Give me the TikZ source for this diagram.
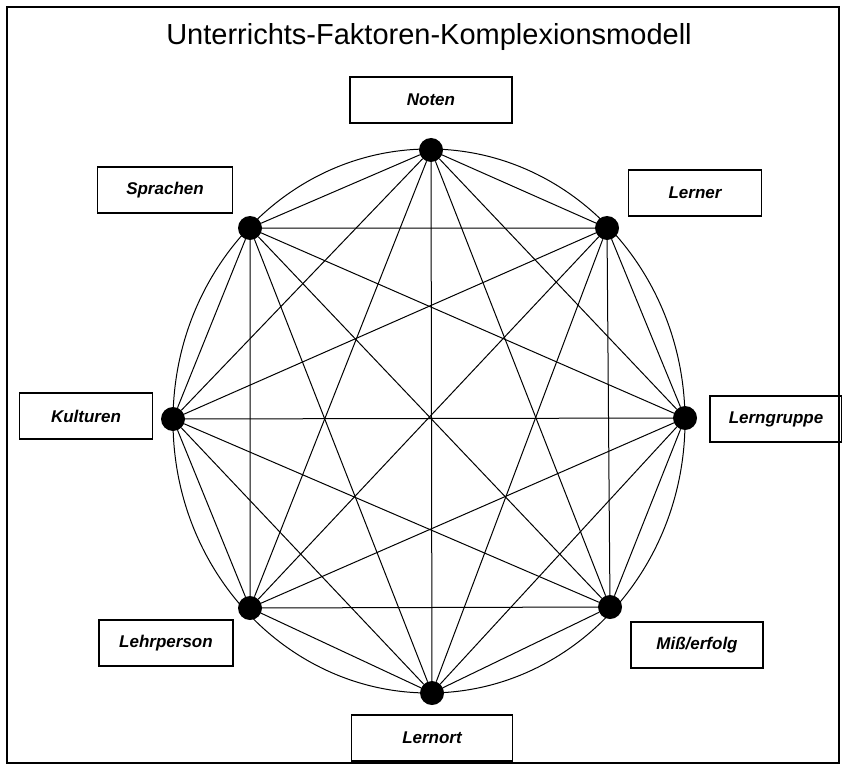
\documentclass[tikz,border=0pt]{standalone}
\usepackage{fontspec}
\setmainfont{Liberation Sans}
\tikzset{
  factor/.style={circle, fill=black, minimum size=24pt, inner sep=0pt},
  labelbox/.style={draw, line width=1.1pt, minimum height=46pt, inner sep=0pt,
    font=\fontsize{17}{20}\selectfont\bfseries\itshape},
  edge/.style={line width=1pt}
}
\begin{document}
\begin{tikzpicture}[x=1pt,y=-1pt]
    \useasboundingbox (0,0) rectangle (842,767);
    \draw[line width=1.4pt] (7,7) rectangle (839,763);
    \node[anchor=base,font=\fontsize{29}{34}\selectfont] (title) at (429,45) {Unterrichts-Faktoren-Komplexionsmodell};

    % the ring
    \draw[edge] (429,421) ellipse [x radius=256pt, y radius=272pt];

    % factors on the ring
    \node[factor] (noten) at (431,150) {};
    \node[factor] (lerner) at (607,228) {};
    \node[factor] (gruppe) at (685,418) {};
    \node[factor] (erfolg) at (610,607) {};
    \node[factor] (ort) at (432,693) {};
    \node[factor] (person) at (250,608) {};
    \node[factor] (kultur) at (173,419) {};
    \node[factor] (sprache) at (250,228) {};

    % every factor linked with every other
    \draw[edge] (noten) -- (lerner) (noten) -- (gruppe) (noten) -- (erfolg) (noten) -- (ort)
                (noten) -- (person) (noten) -- (kultur) (noten) -- (sprache);
    \draw[edge] (lerner) -- (gruppe) (lerner) -- (erfolg) (lerner) -- (ort)
                (lerner) -- (person) (lerner) -- (kultur) (lerner) -- (sprache);
    \draw[edge] (gruppe) -- (erfolg) (gruppe) -- (ort) (gruppe) -- (person)
                (gruppe) -- (kultur) (gruppe) -- (sprache);
    \draw[edge] (erfolg) -- (ort) (erfolg) -- (person) (erfolg) -- (kultur) (erfolg) -- (sprache);
    \draw[edge] (ort) -- (person) (ort) -- (kultur) (ort) -- (sprache);
    \draw[edge] (person) -- (kultur) (person) -- (sprache);
    \draw[edge] (kultur) -- (sprache);

    % labels
    \node[labelbox, minimum width=162pt] (noten-l) at (431,100) {Noten};
    \node[labelbox, minimum width=133pt] (lerner-l) at (695,193) {Lerner};
    \node[labelbox, minimum width=132pt] (gruppe-l) at (776,419) {Lerngruppe};
    \node[labelbox, minimum width=132pt] (erfolg-l) at (697,645) {Miß/erfolg};
    \node[labelbox, minimum width=161pt] (ort-l) at (432,738) {Lernort};
    \node[labelbox, minimum width=134pt] (person-l) at (166,643) {Lehrperson};
    \node[labelbox, minimum width=133pt] (kultur-l) at (86,416) {Kulturen};
    \node[labelbox, minimum width=135pt] (sprache-l) at (165,190) {Sprachen};
\end{tikzpicture}
\end{document}
